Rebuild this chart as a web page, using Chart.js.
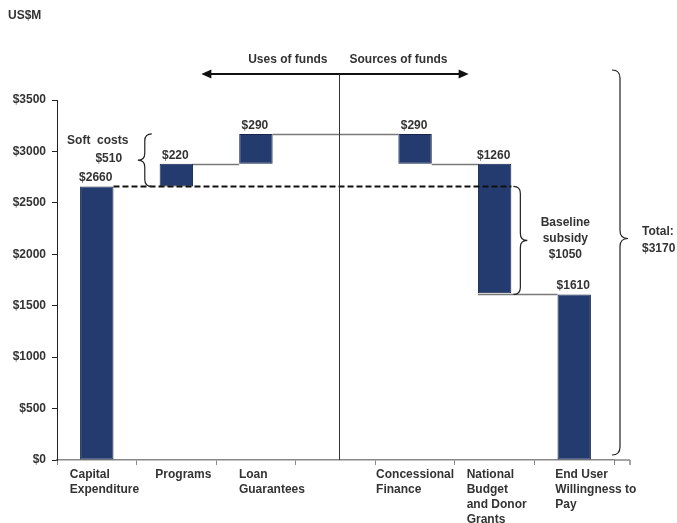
<!DOCTYPE html>
<html>
<head>
<meta charset="utf-8">
<script src="https://cdn.jsdelivr.net/npm/chart.js@4.4.1/dist/chart.umd.min.js"></script>
<style>
  html, body { margin: 0; padding: 0; background: #fff; }
  canvas { display: block; }
</style>
</head>
<body>
<canvas id="waterfall" width="677" height="523"></canvas>
<script>
// Categories on the x axis; the empty slot splits uses from sources
const categories = [
    ['Capital', 'Expenditure'],
    'Programs',
    ['Loan', 'Guarantees'],
    '',
    ['Concessional', 'Finance'],
    ['National', 'Budget', 'and Donor', 'Grants'],
    ['End User', 'Willingness to', 'Pay']
];

// Amounts in US$M and how each one stacks in the waterfall
const amounts = [2660, 220, 290, null, 290, 1260, 1610];
const kinds = ['use', 'use', 'use', null, 'source', 'source', 'base'];

// Y axis ticks
const yTicks = [0, 500, 1000, 1500, 2000, 2500, 3000, 3500];

// Brace labels
const softCosts = 510;
const baselineSubsidy = 1050;
const totalCost = 3170;

// Build floating [start, end] ranges: uses climb, sources come back down
const usesTotal = amounts.reduce((s, a, i) => kinds[i] === 'use' ? s + a : s, 0);
let climb = 0;
let level = usesTotal;
const ranges = amounts.map((a, i) => {
    if (a === null) return null;
    if (kinds[i] === 'use') {
        const r = [climb, climb + a];
        climb += a;
        return r;
    }
    if (kinds[i] === 'source') {
        const r = [level - a, level];
        level -= a;
        return r;
    }
    return [0, a];
});

const FONT = "'Liberation Sans', Arial, sans-serif";
const TEXT = '#333';
Chart.defaults.font.family = FONT;
Chart.defaults.font.size = 12;
Chart.defaults.font.weight = 'bold';
Chart.defaults.color = TEXT;

// Left edge of each category label, relative to the category centre
const labelNudge = [-27, -21, -17, 0, -39, -28, -19];

// Curly brace with its tip pointing left (dir = -1) or right (dir = 1)
function brace(ctx, xs, y1, y2, ym, dir, c) {
    ctx.beginPath();
    ctx.moveTo(xs - dir * c, y1);
    ctx.quadraticCurveTo(xs, y1, xs, y1 + c);
    ctx.lineTo(xs, ym - c);
    ctx.quadraticCurveTo(xs, ym, xs + dir * c, ym);
    ctx.quadraticCurveTo(xs, ym, xs, ym + c);
    ctx.lineTo(xs, y2 - c);
    ctx.quadraticCurveTo(xs, y2, xs - dir * c, y2);
    ctx.stroke();
}

const annotations = {
    id: 'annotations',
    afterDraw(chart) {
        const { ctx, chartArea, scales: { x, y } } = chart;
        const bars = chart.getDatasetMeta(0).data;
        const left = i => bars[i].x - bars[i].width / 2;
        const right = i => bars[i].x + bars[i].width / 2;
        const py = v => Math.round(y.getPixelForValue(v)) + 0.5;
        const hline = (x1, x2, v) => {
            ctx.beginPath();
            ctx.moveTo(x1, py(v));
            ctx.lineTo(x2, py(v));
            ctx.stroke();
        };

        ctx.save();

        // x axis runs a little past the last category
        ctx.strokeStyle = '#888';
        ctx.lineWidth = 1.5;
        ctx.beginPath();
        ctx.moveTo(chartArea.right, chartArea.bottom);
        ctx.lineTo(chartArea.right + 16, chartArea.bottom);
        ctx.moveTo(chartArea.right + 16, chartArea.bottom);
        ctx.lineTo(chartArea.right + 16, chartArea.bottom + 5);
        ctx.stroke();

        // category labels, left-aligned lines
        ctx.font = 'bold 12px ' + FONT;
        ctx.fillStyle = TEXT;
        ctx.textAlign = 'left';
        ctx.textBaseline = 'middle';
        categories.forEach((lab, i) => {
            const lines = Array.isArray(lab) ? lab : [lab];
            const lx = x.getPixelForValue(i) + labelNudge[i];
            lines.forEach((t, k) => ctx.fillText(t, lx, chartArea.bottom + 15 + k * 15));
        });

        // connectors between steps
        ctx.strokeStyle = '#7a7a7a';
        ctx.lineWidth = 1.3;
        hline(right(1), left(2), ranges[1][1]);
        hline(right(2), left(4), ranges[2][1]);
        hline(right(4), left(5), ranges[4][0]);
        hline(left(5), left(6), ranges[6][1]);

        // capital expenditure level carried across
        ctx.strokeStyle = '#111';
        ctx.lineWidth = 2;
        ctx.setLineDash([6, 3]);
        hline(right(0), right(5), ranges[0][1]);
        ctx.setLineDash([]);

        // divider between uses and sources
        const divX = Math.round(x.getPixelForValue(3) + 3) + 0.5;
        const arrowY = 74;
        ctx.strokeStyle = '#333';
        ctx.lineWidth = 1;
        ctx.beginPath();
        ctx.moveTo(divX, arrowY);
        ctx.lineTo(divX, chartArea.bottom);
        ctx.stroke();

        // double-headed arrow
        const ax1 = x.getPixelForValue(1) + 25;
        const ax2 = x.getPixelForValue(5) - 26;
        ctx.strokeStyle = '#111';
        ctx.fillStyle = '#111';
        ctx.lineWidth = 2;
        ctx.beginPath();
        ctx.moveTo(ax1 + 6, arrowY);
        ctx.lineTo(ax2 - 6, arrowY);
        ctx.stroke();
        ctx.beginPath();
        ctx.moveTo(ax1, arrowY);
        ctx.lineTo(ax1 + 10, arrowY - 4.5);
        ctx.lineTo(ax1 + 10, arrowY + 4.5);
        ctx.closePath();
        ctx.moveTo(ax2, arrowY);
        ctx.lineTo(ax2 - 10, arrowY - 4.5);
        ctx.lineTo(ax2 - 10, arrowY + 4.5);
        ctx.closePath();
        ctx.fill();

        ctx.fillStyle = TEXT;
        ctx.textBaseline = 'middle';
        ctx.textAlign = 'right';
        ctx.fillText('Uses of funds', divX - 12, 60);
        ctx.textAlign = 'left';
        ctx.fillText('Sources of funds', divX + 10, 60);

        // unit label
        ctx.fillText('US$M', 8, 16);

        // value labels above each step
        ctx.textAlign = 'center';
        ctx.textBaseline = 'alphabetic';
        bars.forEach((b, i) => {
            if (amounts[i] === null) return;
            ctx.fillText('$' + amounts[i], b.x - 1, Math.min(b.y, b.base) - 5);
        });

        ctx.strokeStyle = '#222';
        ctx.lineWidth = 1.2;

        // soft costs brace (programs + loan guarantees)
        const sTop = y.getPixelForValue(ranges[0][1] + softCosts);
        const sBot = y.getPixelForValue(ranges[0][1]);
        const sMid = (sTop + sBot) / 2;
        const sX = x.getPixelForValue(0) + 48;
        brace(ctx, sX, sTop, sBot, sMid, -1, 7);
        ctx.textBaseline = 'middle';
        ctx.fillText('Soft  costs', sX - 47, sMid - 19);
        ctx.fillText('$' + softCosts, sX - 36, sMid - 1);

        // baseline subsidy brace
        const bTop = y.getPixelForValue(ranges[0][1]);
        const bBot = y.getPixelForValue(ranges[0][1] - baselineSubsidy);
        const bMid = (bTop + bBot) / 2;
        const bX = right(5) + 9;
        brace(ctx, bX, bTop, bBot, bMid, 1, 7);
        ctx.fillText('Baseline', bX + 45, bMid - 18);
        ctx.fillText('subsidy', bX + 45, bMid - 2);
        ctx.fillText('$' + baselineSubsidy, bX + 45, bMid + 14);

        // total brace on the right
        const tTop = chartArea.top - 30;
        const tBot = y.getPixelForValue(0) - 5;
        const tMid = (tTop + tBot) / 2 - 24;
        const tX = chartArea.right + 6;
        brace(ctx, tX, tTop, tBot, tMid, 1, 8);
        ctx.textAlign = 'left';
        ctx.fillText('Total:', tX + 22, tMid - 7);
        ctx.fillText('$' + totalCost, tX + 22, tMid + 10);

        ctx.restore();
    }
};

new Chart(document.getElementById('waterfall'), {
    type: 'bar',
    data: {
        labels: categories,
        datasets: [{
            data: ranges,
            backgroundColor: '#233b6e',
            borderColor: '#16254b',
            borderWidth: 1,
            borderSkipped: false,
            categoryPercentage: 1,
            barPercentage: 0.42
        }]
    },
    options: {
        responsive: false,
        animation: false,
        devicePixelRatio: 1,
        layout: { padding: { top: 100, right: 63, left: 0, bottom: 0 } },
        plugins: {
            legend: { display: false },
            tooltip: { enabled: false }
        },
        scales: {
            x: {
                grid: { drawOnChartArea: false, tickLength: 5, color: '#888', offset: true },
                border: { color: '#888', width: 1.5 },
                ticks: { display: false },
                afterFit: s => { s.height = 63; }
            },
            y: {
                min: 0,
                max: 3500,
                grid: { drawOnChartArea: false, tickLength: 5, color: '#222' },
                border: { color: '#222', width: 1 },
                ticks: {
                    padding: 6,
                    callback: v => '$' + v,
                    font: { size: 12, weight: 'bold' }
                },
                afterBuildTicks: s => { s.ticks = yTicks.map(v => ({ value: v })); },
                afterFit: s => { s.width = 57; }
            }
        }
    },
    plugins: [annotations]
});
</script>
</body>
</html>
